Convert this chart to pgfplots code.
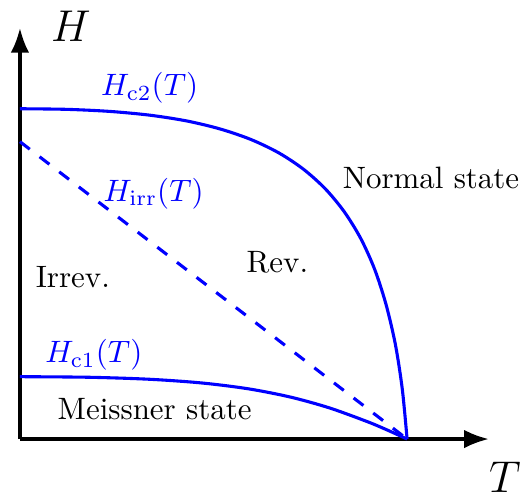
\documentclass[border=0pt]{standalone}
\usepackage{pgfplots}
\pgfplotsset{compat=1.18}
\usetikzlibrary{arrows.meta}

% Critical field curves of a type-II superconductor (schematic)
\pgfplotstableread{
T H
0 331
47.0 330.4
90.5 328.3
130.6 324.5
167.5 318.7
201.1 310.6
231.7 300.1
259.4 286.8
284 270.5
305.9 250.9
325 227.8
341.6 200.9
355.6 169.8
367.0 134.5
376.3 94.6
383.2 49.9
388 0
}\hctwo

\pgfplotstableread{
T H
0 62.5
69.7 61.9
129.9 59.9
182.1 56.2
228.5 50.4
270.5 42.2
309.9 31.3
348.5 17.3
368 9.1
388 0
}\hcone

\pgfplotstableread{
T H
0 298
388 0
}\hirr

\begin{document}
\begin{tikzpicture}
\begin{axis}[
  scale only axis,
  width=151.6pt, height=132.9pt,
  xmin=0, xmax=470, ymin=0, ymax=412,
  axis lines=left,
  axis line style={line width=1.1pt, -{Latex[length=8pt,width=6pt]}},
  xtick=\empty, ytick=\empty,
  clip=false,
]
  % overall extent of the figure
  \path (axis cs:-20,-53) rectangle (axis cs:511,440);

  \addplot[blue, line width=1pt, smooth] table {\hctwo};
  \addplot[blue, line width=1pt, smooth] table {\hcone};
  \addplot[blue, line width=1pt, dash pattern=on 4pt off 4pt] table {\hirr};

  \node at (axis cs:51,414) {\Large $H$};
  \node at (axis cs:486,-38) {\Large $T$};
  \node[blue] at (axis cs:130,352) {$H_{\mathrm{c2}}(T)$};
  \node[blue] at (axis cs:134,246) {$H_{\mathrm{irr}}(T)$};
  \node[blue] at (axis cs:74,84) {$H_{\mathrm{c1}}(T)$};
  \node at (axis cs:412,262) {Normal state};
  \node at (axis cs:258,177) {Rev.};
  \node at (axis cs:53,162) {Irrev.};
  \node at (axis cs:135,30) {Meissner state};
\end{axis}
\end{tikzpicture}
\end{document}
